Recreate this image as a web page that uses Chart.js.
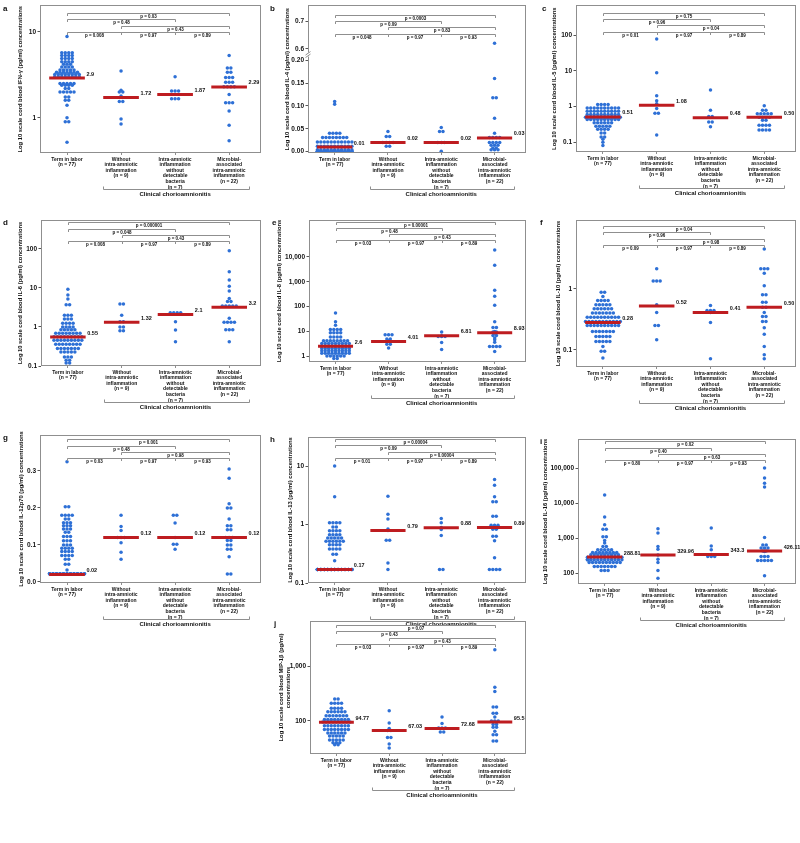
<!DOCTYPE html>
<html>
<head>
<meta charset="utf-8">
<script src="https://cdn.jsdelivr.net/npm/chart.js@4.4.0/dist/chart.umd.min.js"></script>
<style>
body { margin: 0; background: #fff; }
#figure { position: relative; width: 800px; height: 843px; background: #fff; overflow: hidden; }
#figure canvas { position: absolute; }
</style>
</head>
<body>
<div id="figure"></div>
<script>
// ---------- data (each group: [value, number of dots at that value]) ----------
const categoryLabels = [
    ['Term in labor', '(n = 77)'],
    ['Without', 'intra-amniotic', 'inflammation', '(n = 9)'],
    ['Intra-amniotic', 'inflammation', 'without', 'detectable', 'bacteria', '(n = 7)'],
    ['Microbial-', 'associated', 'intra-amniotic', 'inflammation', '(n = 22)']
];

// a: IFN-γ
const ifngTerm = [[8.8,1],[5.7,4],[5.3,4],[4.9,4],[4.5,4],[4.2,3],[3.9,4],[3.6,5],[3.4,7],[3.2,8],[3.0,8],[2.5,5],[2.4,4],[2.2,2],[2.0,5],[1.75,2],[1.6,2],[1.4,1],[1.0,1],[0.9,2],[0.52,1]];
const ifngWithout = [[3.5,1],[2.1,1],[2.0,2],[1.8,1],[1.55,2],[0.97,1],[0.85,1]];
const ifngIntra = [[3.0,1],[2.05,3],[1.67,3]];
const ifngMicro = [[5.3,1],[3.8,2],[3.4,2],[2.95,3],[2.6,3],[2.3,4],[1.87,1],[1.5,3],[1.2,1],[0.82,1],[0.54,1]];
const ifngMedians = ['2.9', '1.72', '1.87', '2.29'];
const ifngP = ['p = 0.03', 'p = 0.48', 'p = 0.43', 'p = 0.008', 'p = 0.97', 'p = 0.89'];
const ifngTicks = [1, 10];
const ifngTickLabels = ['1', '10'];

// b: IL-4
const il4Term = [[0.11,1],[0.104,1],[0.04,4],[0.031,8],[0.021,11],[0.012,11],[0.004,11],[0.001,30]];
const il4Without = [[0.044,1],[0.033,2],[0.02,4],[0.012,2]];
const il4Intra = [[0.053,1],[0.044,2],[0.02,3],[0.001,1]];
const il4Micro = [[0.62,1],[0.16,1],[0.118,2],[0.073,1],[0.04,1],[0.031,4],[0.02,4],[0.014,3],[0.008,2],[0.004,3]];
const il4Medians = ['0.01', '0.02', '0.02', '0.03'];
const il4P = ['p = 0.0003', 'p = 0.09', 'p = 0.83', 'p = 0.048', 'p = 0.97', 'p = 0.93'];
const il4Ticks = [0, 0.05, 0.1, 0.15, 0.2, 0.6, 0.7];
const il4TickLabels = ['0.00', '0.05', '0.10', '0.15', '0.20', '0.6', '0.7'];

// c: IL-5
const il5Term = [[1.13,4],[0.9,10],[0.73,10],[0.6,10],[0.5,11],[0.43,10],[0.35,6],[0.28,5],[0.23,4],[0.18,2],[0.14,2],[0.12,1],[0.1,1],[0.08,1]];
const il5Without = [[78,1],[8.8,1],[2.0,1],[1.45,1],[1.2,1],[0.88,1],[0.65,2],[0.16,1]];
const il5Intra = [[2.9,1],[0.78,1],[0.52,2],[0.37,2],[0.27,1]];
const il5Micro = [[1.05,1],[0.78,2],[0.63,5],[0.5,4],[0.41,2],[0.3,4],[0.22,4]];
const il5Medians = ['0.51', '1.08', '0.48', '0.50'];
const il5P = ['p = 0.75', 'p = 0.96', 'p = 0.04', 'p = 0.01', 'p = 0.97', 'p = 0.89'];
const il5Ticks = [0.1, 1, 10, 100];
const il5TickLabels = ['0.1', '1', '10', '100'];

// d: IL-6
const il6Term = [[9.2,1],[6.6,1],[5.2,1],[3.7,2],[2.0,3],[1.6,3],[1.24,4],[1.0,4],[0.85,5],[0.69,8],[0.56,9],[0.46,9],[0.36,8],[0.28,7],[0.23,5],[0.17,3],[0.14,2],[0.12,2]];
const il6Without = [[3.9,2],[2.0,1],[1.37,2],[1.0,2],[0.8,2]];
const il6Intra = [[2.33,4],[1.37,1],[0.84,1],[0.42,1]];
const il6Micro = [[89,1],[26,1],[16,1],[11,1],[8.4,1],[5.4,1],[4.5,2],[3.45,5],[1.67,1],[1.32,4],[0.85,3],[0.42,1]];
const il6Medians = ['0.55', '1.32', '2.1', '3.2'];
const il6P = ['p = 0.000001', 'p = 0.048', 'p = 0.43', 'p = 0.008', 'p = 0.97', 'p = 0.89'];
const il6Ticks = [0.1, 1, 10, 100];
const il6TickLabels = ['0.1', '1', '10', '100'];

// e: IL-8
const il8Term = [[55,1],[25,1],[18,1],[12,4],[9,4],[6,4],[4.3,8],[3.3,9],[2.6,9],[2.1,9],[1.7,9],[1.35,9],[1.05,6],[0.82,2],[0.55,1]];
const il8Without = [[7.5,3],[5.0,2],[4.3,1],[3.1,2],[2.2,1]];
const il8Intra = [[9.6,1],[6.8,1],[6.4,3],[3.66,1],[1.9,1]];
const il8Micro = [[18600,1],[4600,1],[450,1],[260,1],[113,1],[25,1],[14.7,2],[10,1],[9.5,2],[8.5,1],[7,2],[5.5,1],[4.7,1],[3.7,1],[2.5,4],[1.6,1]];
const il8Medians = ['2.6', '4.01', '6.81', '8.93'];
const il8P = ['p = 0.00001', 'p = 0.48', 'p = 0.43', 'p = 0.03', 'p = 0.97', 'p = 0.89'];
const il8Ticks = [1, 10, 100, 1000, 10000];
const il8TickLabels = ['1', '10', '100', '1,000', '10,000'];

// f: IL-10
const il10Term = [[0.88,2],[0.75,1],[0.64,4],[0.55,5],[0.47,6],[0.4,7],[0.34,10],[0.29,11],[0.25,10],[0.2,7],[0.165,5],[0.137,5],[0.113,1],[0.094,2],[0.073,1]];
const il10Without = [[2.13,1],[1.35,3],[0.55,1],[0.41,1],[0.25,2],[0.146,1]];
const il10Intra = [[0.53,1],[0.44,3],[0.41,1],[0.28,1],[0.071,1]];
const il10Micro = [[4.5,1],[2.13,3],[1.8,1],[1.12,1],[0.8,2],[0.6,2],[0.5,2],[0.41,1],[0.35,2],[0.29,2],[0.23,1],[0.18,1],[0.113,1],[0.083,1],[0.071,1]];
const il10Medians = ['0.28', '0.52', '0.41', '0.50'];
const il10P = ['p = 0.04', 'p = 0.96', 'p = 0.98', 'p = 0.09', 'p = 0.97', 'p = 0.89'];
const il10Ticks = [0.1, 1];
const il10TickLabels = ['0.1', '1'];

// g: IL-12p70
const il12Term = [[0.325,1],[0.203,2],[0.18,4],[0.17,2],[0.16,3],[0.152,3],[0.143,3],[0.134,2],[0.123,3],[0.111,3],[0.1,3],[0.091,4],[0.082,4],[0.071,4],[0.061,2],[0.048,2],[0.032,1],[0.022,31]];
const il12Without = [[0.18,1],[0.15,1],[0.139,1],[0.12,3],[0.106,1],[0.08,1],[0.061,1]];
const il12Intra = [[0.18,2],[0.159,1],[0.12,1],[0.102,2],[0.088,1]];
const il12Micro = [[0.305,1],[0.28,1],[0.211,1],[0.2,2],[0.17,1],[0.152,2],[0.141,2],[0.12,3],[0.112,2],[0.1,2],[0.088,2],[0.068,1],[0.021,2]];
const il12Medians = ['0.02', '0.12', '0.12', '0.12'];
const il12P = ['p = 0.001', 'p = 0.48', 'p = 0.98', 'p = 0.03', 'p = 0.97', 'p = 0.93'];
const il12Ticks = [0, 0.1, 0.2, 0.3];
const il12TickLabels = ['0.0', '0.1', '0.2', '0.3'];

// h: IL-13
const il13Term = [[10,1],[2.98,1],[1.07,4],[0.91,2],[0.78,4],[0.67,4],[0.59,5],[0.52,6],[0.45,4],[0.38,4],[0.31,2],[0.24,1],[0.17,39]];
const il13Without = [[3.06,1],[1.5,1],[1.25,1],[0.84,1],[0.79,1],[0.54,2],[0.22,1],[0.17,1]];
const il13Intra = [[1.27,1],[1.07,1],[0.89,1],[0.82,1],[0.65,1],[0.17,2]];
const il13Micro = [[5.9,1],[4.7,1],[3.0,1],[2.45,2],[1.39,2],[0.97,3],[0.89,2],[0.83,2],[0.63,2],[0.53,1],[0.27,1],[0.17,4]];
const il13Medians = ['0.17', '0.79', '0.88', '0.89'];
const il13P = ['p = 0.00004', 'p = 0.09', 'p = 0.00004', 'p = 0.01', 'p = 0.97', 'p = 0.89'];
const il13Ticks = [0.1, 1, 10];
const il13TickLabels = ['0.1', '1', '10'];

// i: IL-16
const il16Term = [[17000,1],[4000,1],[2400,1],[1800,2],[1100,2],[860,1],[720,1],[580,2],[465,5],[390,8],[335,9],[286,11],[240,13],[200,10],[155,7],[120,3]];
const il16Without = [[1850,1],[1390,1],[580,1],[485,1],[330,1],[250,1],[200,1],[120,1],[72,1]];
const il16Intra = [[1940,1],[600,1],[465,1],[343,1],[300,3]];
const il16Micro = [[100000,1],[52000,1],[37000,1],[29000,1],[1050,1],[640,2],[520,3],[426,2],[415,1],[300,3],[230,5],[84,1]];
const il16Medians = ['288.81', '329.96', '343.3', '426.11'];
const il16P = ['p = 0.02', 'p = 0.40', 'p = 0.63', 'p = 0.80', 'p = 0.97', 'p = 0.93'];
const il16Ticks = [100, 1000, 10000, 100000];
const il16TickLabels = ['100', '1,000', '10,000', '100,000'];

// j: MIP-1β
const mipTerm = [[250,2],[210,4],[170,4],[147,6],[124,7],[106,8],[96,9],[82,8],[70,8],[60,6],[53,5],[45,5],[40,3],[37,2]];
const mipWithout = [[153,1],[92,1],[73,1],[67,2],[50,2],[38,1],[32,1]];
const mipIntra = [[118,1],[90,1],[74,3],[63,2]];
const mipMicro = [[1970,1],[410,1],[345,1],[180,2],[138,2],[118,1],[100,3],[95,2],[86,2],[77,2],[65,1],[56,2],[43,2]];
const mipMedians = ['94.77', '67.03', '72.68', '95.5'];
const mipP = ['p = 0.07', 'p = 0.43', 'p = 0.43', 'p = 0.03', 'p = 0.97', 'p = 0.89'];
const mipTicks = [100, 1000];
const mipTickLabels = ['100', '1,000'];

// ---------- layout ----------
const colX = [0, 265, 530];
const colW = [265, 265, 270];
const rowY = [0, 205, 410, 605];
const CANVAS_H = 238;
const FRAME_W = 221;
const X_MIN = 0.5, X_MAX = 4.59;
const FONT = '"Liberation Sans", Arial, sans-serif';
const DOT_BLUE = 'rgb(46,112,214)';
const MEDIAN_RED = 'rgb(190,28,32)';
const LINE_GREY = '#8f8f8f';
const TEXT = '#111';

// comparison brackets: [group, group, level], in the same order as the p arrays
const bracketPairs = [[1, 4, 0], [1, 3, 1], [2, 4, 2], [1, 2, 3], [2, 3, 3], [3, 4, 3]];

// IL-4 axis is broken between 0.20 and 0.6
function il4Axis(v) { return v <= 0.2 ? v : 0.2254 + (v - 0.6) * 0.5986; }
const identity = v => v;

function cb(name) { return 'Log 10 scale cord blood ' + name + ' (pg/ml) concentrations'; }

const panels = [
    { letter: 'a', col: 0, row: 0, left: 40, top: 2, bottom: 153, yType: 'logarithmic', yMin: 0.39, yMax: 20.3,
      ticks: ifngTicks, tickLabels: ifngTickLabels, title: cb('IFN-γ'), groups: [ifngTerm, ifngWithout, ifngIntra, ifngMicro],
      medians: ifngMedians, pValues: ifngP, bracketTop: 7.6, titleX: 20, letterX: 3, tf: identity },
    { letter: 'b', col: 1, row: 0, left: 308, top: 1, bottom: 153, yType: 'linear', yMin: -0.003, yMax: 0.3204,
      ticks: il4Ticks, tickLabels: il4TickLabels, title: cb('IL-4'), groups: [il4Term, il4Without, il4Intra, il4Micro],
      medians: il4Medians, pValues: il4P, bracketTop: 9.3, titleX: 22, letterX: 5, tf: il4Axis, axisBreak: 0.2127 },
    { letter: 'c', col: 2, row: 0, left: 576, top: 3, bottom: 152, yType: 'logarithmic', yMin: 0.053, yMax: 680,
      ticks: il5Ticks, tickLabels: il5TickLabels, title: cb('IL-5'), groups: [il5Term, il5Without, il5Intra, il5Micro],
      medians: il5Medians, pValues: il5P, bracketTop: 7.3, titleX: 24, letterX: 12, tf: identity },
    { letter: 'd', col: 0, row: 1, left: 41, top: 220, bottom: 366, yType: 'logarithmic', yMin: 0.1, yMax: 550,
      ticks: il6Ticks, tickLabels: il6TickLabels, title: cb('IL-6'), groups: [il6Term, il6Without, il6Intra, il6Micro],
      medians: il6Medians, pValues: il6P, bracketTop: 2.3, titleX: 20, letterX: 3, tf: identity },
    { letter: 'e', col: 1, row: 1, left: 309, top: 220, bottom: 362, yType: 'logarithmic', yMin: 0.63, yMax: 300000,
      ticks: il8Ticks, tickLabels: il8TickLabels, title: cb('IL-8'), groups: [il8Term, il8Without, il8Intra, il8Micro],
      medians: il8Medians, pValues: il8P, bracketTop: 1.5, titleX: 14, letterX: 7, tf: identity },
    { letter: 'f', col: 2, row: 1, left: 576, top: 220, bottom: 367, yType: 'logarithmic', yMin: 0.052, yMax: 13.5,
      ticks: il10Ticks, tickLabels: il10TickLabels, title: cb('IL-10'), groups: [il10Term, il10Without, il10Intra, il10Micro],
      medians: il10Medians, pValues: il10P, bracketTop: 6, titleX: 28, letterX: 10, tf: identity },
    { letter: 'g', col: 0, row: 2, left: 40, top: 435, bottom: 583, yType: 'linear', yMin: -0.003, yMax: 0.397,
      ticks: il12Ticks, tickLabels: il12TickLabels, title: cb('IL-12p70'), groups: [il12Term, il12Without, il12Intra, il12Micro],
      medians: il12Medians, pValues: il12P, bracketTop: 4.3, titleX: 21, letterX: 3, tf: identity },
    { letter: 'h', col: 1, row: 2, left: 308, top: 437, bottom: 583, yType: 'logarithmic', yMin: 0.1, yMax: 31.5,
      ticks: il13Ticks, tickLabels: il13TickLabels, title: cb('IL-13'), groups: [il13Term, il13Without, il13Intra, il13Micro],
      medians: il13Medians, pValues: il13P, bracketTop: 2, titleX: 25, letterX: 5, tf: identity },
    { letter: 'i', col: 2, row: 2, left: 578, top: 439, bottom: 584, yType: 'logarithmic', yMin: 49, yMax: 676000,
      ticks: il16Ticks, tickLabels: il16TickLabels, title: cb('IL-16'), groups: [il16Term, il16Without, il16Intra, il16Micro],
      medians: il16Medians, pValues: il16P, bracketTop: 2.4, titleX: 15, letterX: 10, tf: identity },
    { letter: 'j', col: 1, row: 3, left: 310, top: 621, bottom: 754, yType: 'logarithmic', yMin: 25, yMax: 6600,
      ticks: mipTicks, tickLabels: mipTickLabels, title: ['Log 10 scale cord blood MIP-1β (pg/ml)', 'concentrations'],
      groups: [mipTerm, mipWithout, mipIntra, mipMicro],
      medians: mipMedians, pValues: mipP, bracketTop: 4, titleX: 16, letterX: 9, tf: identity }
];

// dot-plot: dots sharing a value are spread sideways in a row
function buildDots(p) {
    const dx = 3.5 * (X_MAX - X_MIN) / FRAME_W;
    const maxPerRow = 11;
    const pts = [];
    p.groups.forEach((rows, k) => {
        rows.forEach(([v, count]) => {
            const n = Math.min(count, maxPerRow);
            for (let i = 0; i < count; i++) {
                const j = i % maxPerRow;
                pts.push({ x: k + 1 + (j - (n - 1) / 2) * dx, y: p.tf(v) });
            }
        });
    });
    return pts;
}

function medianSets(p) {
    return p.medians.map((m, k) => ({
        type: 'scatter',
        showLine: true,
        data: [{ x: k + 1 - 0.33, y: p.tf(Number(m)) }, { x: k + 1 + 0.33, y: p.tf(Number(m)) }],
        borderColor: MEDIAN_RED,
        borderWidth: 3,
        pointRadius: 0,
        order: 1
    }));
}

function decorPlugin(p) {
    return {
        id: 'decor',
        afterDraw(chart) {
            const { ctx, chartArea: a, scales: { x, y } } = chart;
            ctx.save();
            ctx.strokeStyle = LINE_GREY;
            ctx.lineWidth = 1;
            ctx.strokeRect(Math.round(a.left) + 0.5, Math.round(a.top) + 0.5,
                Math.round(a.right - a.left) - 1, Math.round(a.bottom - a.top) - 1);

            // axis break marks
            if (p.axisBreak) {
                const by = y.getPixelForValue(p.axisBreak);
                const bx = Math.round(a.left) + 0.5;
                ctx.fillStyle = '#fff';
                ctx.fillRect(bx - 2, by - 2, 4, 4);
                ctx.beginPath();
                ctx.moveTo(bx - 3, by + 0.5); ctx.lineTo(bx + 2, by - 3);
                ctx.moveTo(bx - 3, by + 3); ctx.lineTo(bx + 2, by - 0.5);
                ctx.stroke();
            }

            // significance brackets
            ctx.fillStyle = TEXT;
            ctx.font = 'bold 4.5px ' + FONT;
            ctx.textAlign = 'center';
            ctx.textBaseline = 'top';
            bracketPairs.forEach(([g1, g2, level], i) => {
                const yy = Math.round(a.top + p.bracketTop + level * 6.3) + 0.5;
                const x1 = Math.round(x.getPixelForValue(g1)) + 0.5;
                const x2 = Math.round(x.getPixelForValue(g2)) + 0.5;
                ctx.beginPath();
                ctx.moveTo(x1, yy + 2.5); ctx.lineTo(x1, yy); ctx.lineTo(x2, yy); ctx.lineTo(x2, yy + 2.5);
                ctx.stroke();
                ctx.fillText(p.pValues[i], (x1 + x2) / 2, yy + 0.8);
            });

            // median values
            ctx.font = 'bold 5.5px ' + FONT;
            ctx.textAlign = 'left';
            ctx.textBaseline = 'middle';
            p.medians.forEach((m, k) => {
                ctx.fillText(m, x.getPixelForValue(k + 1 + 0.36), y.getPixelForValue(p.tf(Number(m))) - 4);
            });

            // clinical chorioamnionitis group bracket
            const cy = Math.round(a.bottom + 36) + 0.5;
            const cx1 = Math.round(x.getPixelForValue(2 - 0.33)) + 0.5;
            const cx2 = Math.round(x.getPixelForValue(4 + 0.37)) + 0.5;
            ctx.beginPath();
            ctx.moveTo(cx1, cy - 3); ctx.lineTo(cx1, cy); ctx.lineTo(cx2, cy); ctx.lineTo(cx2, cy - 3);
            ctx.stroke();
            ctx.font = 'bold 6px ' + FONT;
            ctx.textAlign = 'center';
            ctx.textBaseline = 'top';
            ctx.fillText('Clinical chorioamnionitis', x.getPixelForValue(3), cy + 1.5);

            // panel letter
            ctx.font = 'bold 8px ' + FONT;
            ctx.textAlign = 'left';
            ctx.fillText(p.letter, p.letterX, a.top - 1);
            ctx.restore();
        }
    };
}

const figure = document.getElementById('figure');
const charts = {};

panels.forEach(p => {
    const canvas = document.createElement('canvas');
    const cw = colW[p.col];
    canvas.width = cw;
    canvas.height = CANVAS_H;
    canvas.style.left = colX[p.col] + 'px';
    canvas.style.top = rowY[p.row] + 'px';
    canvas.style.width = cw + 'px';
    canvas.style.height = CANVAS_H + 'px';
    figure.appendChild(canvas);

    const yAxisWidth = p.left - colX[p.col];
    const padTop = p.top - rowY[p.row];
    const padRight = colX[p.col] + cw - (p.left + FRAME_W);
    const xAxisHeight = CANVAS_H - (p.bottom - rowY[p.row]);

    charts[p.letter] = new Chart(canvas.getContext('2d'), {
        type: 'scatter',
        data: {
            datasets: [{
                data: buildDots(p),
                backgroundColor: DOT_BLUE,
                borderWidth: 0,
                pointRadius: 1.75,
                order: 2
            }].concat(medianSets(p))
        },
        options: {
            responsive: false,
            animation: false,
            devicePixelRatio: 1,
            layout: { padding: { top: padTop, right: padRight, left: 0, bottom: 0 } },
            plugins: { legend: { display: false }, tooltip: { enabled: false } },
            scales: {
                x: {
                    type: 'linear',
                    min: X_MIN,
                    max: X_MAX,
                    afterBuildTicks: s => { s.ticks = [1, 2, 3, 4].map(v => ({ value: v })); },
                    afterFit: s => { s.height = xAxisHeight; },
                    ticks: {
                        callback: (v, i) => categoryLabels[i],
                        autoSkip: false,
                        maxRotation: 0,
                        minRotation: 0,
                        padding: 1.5,
                        color: TEXT,
                        font: { size: 5, weight: 'bold', family: FONT, lineHeight: 1.12 }
                    },
                    grid: { drawOnChartArea: false, drawTicks: true, tickLength: 2, color: LINE_GREY },
                    border: { display: false }
                },
                y: {
                    type: p.yType,
                    min: p.yMin,
                    max: p.yMax,
                    afterBuildTicks: s => { s.ticks = p.ticks.map(v => ({ value: p.tf(v) })); },
                    afterFit: s => { s.width = yAxisWidth; },
                    ticks: {
                        callback: (v, i) => p.tickLabels[i],
                        autoSkip: false,
                        padding: 1.5,
                        color: TEXT,
                        font: { size: 6.5, weight: 'bold', family: FONT }
                    },
                    grid: { drawOnChartArea: false, drawTicks: true, tickLength: 2.5, color: '#555' },
                    border: { display: false },
                    title: {
                        display: true,
                        text: p.title,
                        color: TEXT,
                        font: { size: 5.8, weight: 'bold', family: FONT, lineHeight: 1.2 },
                        padding: { top: p.titleX - 3.5, bottom: 0 }
                    }
                }
            }
        },
        plugins: [decorPlugin(p)]
    });
});
</script>
</body>
</html>
